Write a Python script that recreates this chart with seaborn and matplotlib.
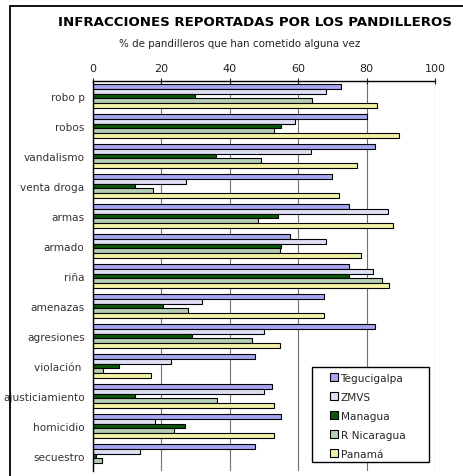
import matplotlib
matplotlib.use("Agg")
import matplotlib.pyplot as plt
from matplotlib.patches import Rectangle
from matplotlib.ticker import FixedLocator
import seaborn as sns
import pandas as pd
import numpy as np

categorias = ["robo p", "robos", "vandalismo", "venta droga", "armas", "armado",
              "riña", "amenazas", "agresiones", "violación ", "ajusticiamiento",
              "homicidio", "secuestro"]
series = ["Tegucigalpa", "ZMVS", "Managua", "R Nicaragua", "Panamá"]

tegucigalpa = [72.4, 80.0, 82.6, 70.0, 75.0, 57.5, 75.0, 67.5, 82.6, 47.5, 52.4, 55.1, 47.5]
zmvs        = [68.2, 59.2, 63.6, 27.3, 86.3, 68.2, 81.9, 31.9, 50.0, 22.7, 50.0, 18.2, 13.6]
managua     = [29.8, 55.0, 35.9, 12.2, 54.2, 55.0, 74.8, 20.6, 29.0, 7.6, 12.2, 26.8, 0.9]
r_nicaragua = [64.1, 52.8, 49.0, 17.6, 48.1, 54.8, 84.6, 27.9, 46.6, 3.0, 36.2, 23.6, 2.7]
panama      = [83.0, 89.5, 77.3, 72.0, 87.8, 78.5, 86.5, 67.4, 54.7, 16.9, 52.9, 52.9, 0.0]

xticks = [0, 20, 40, 60, 80, 100]

valores = [tegucigalpa, zmvs, managua, r_nicaragua, panama]
rows = []
for s, vals in zip(series, valores):
    for c, v in zip(categorias, vals):
        rows.append({"Categoria": c, "Serie": s, "Valor": v})
df = pd.DataFrame(rows)

colores = ["#9999ff", "#dcdcf8", "#006400", "#b0d2b0", "#ffff99"]

sns.set_style("white")
plt.rcParams["font.family"] = ["DejaVu Sans"]

fig = plt.figure(figsize=(4.64, 4.77), dpi=100)
ax = fig.add_axes([93/464, 1 - 472/477, 342/464, 390/477])

sns.barplot(data=df, y="Categoria", x="Valor", hue="Serie", order=categorias,
            hue_order=series, palette=colores, orient="h", width=0.8,
            edgecolor="black", linewidth=0.8, ax=ax, legend=True)

ax.set_xlim(0, 100)
ax.set_ylim(len(categorias) - 0.5, -0.5)
ax.xaxis.tick_top()
ax.set_xticks(xticks)
ax.set_xticklabels([str(t) for t in xticks], fontsize=8, color="#222222")
ax.tick_params(axis="x", which="major", direction="inout", length=5, width=0.8, pad=3, colors="#222222")
ax.set_xlabel("")
ax.set_ylabel("")

ax.set_yticks(range(len(categorias)))
ax.set_yticklabels(categorias, fontsize=7.6, color="#333333")
ax.tick_params(axis="y", which="major", length=0, pad=6)
ax.yaxis.set_minor_locator(FixedLocator(np.arange(-0.5, len(categorias), 1.0)))
ax.tick_params(axis="y", which="minor", length=4, width=0.8, color="#222222", direction="out")

ax.grid(axis="x", color="#707070", linewidth=0.8)
ax.set_axisbelow(True)
for sp in ["bottom", "right"]:
    ax.spines[sp].set_visible(False)
ax.spines["top"].set_color("black")
ax.spines["top"].set_linewidth(1.0)
ax.spines["left"].set_color("black")
ax.spines["left"].set_linewidth(1.0)

handles, labels = ax.get_legend_handles_labels()
ax.add_patch(Rectangle((0.640, 0.023), 0.342, 0.244, transform=ax.transAxes,
                       facecolor="white", edgecolor="black", linewidth=1.0, zorder=4))
leg = ax.legend(handles, labels, loc="upper left", bbox_to_anchor=(0.693, 0.252),
                borderaxespad=0, fontsize=7.6, frameon=False,
                handlelength=0.75, handleheight=0.75, handletextpad=0.25,
                labelspacing=0.85, borderpad=0)
leg.set_zorder(5)

fig.text(255/464, 1 - 22/477, "INFRACCIONES REPORTADAS POR LOS PANDILLEROS",
         ha="center", va="center", fontsize=9.6, fontweight="bold", color="black")
fig.text(240/464, 1 - 44/477, "% de pandilleros que han cometido alguna vez",
         ha="center", va="center", fontsize=7.4, color="#222222")

fig.patches.append(Rectangle((10/464, -0.05), 1.2, 1.05 - 7/477, transform=fig.transFigure,
                             fill=False, edgecolor="black", linewidth=1.3))

fig.savefig("out.png", dpi=100)
